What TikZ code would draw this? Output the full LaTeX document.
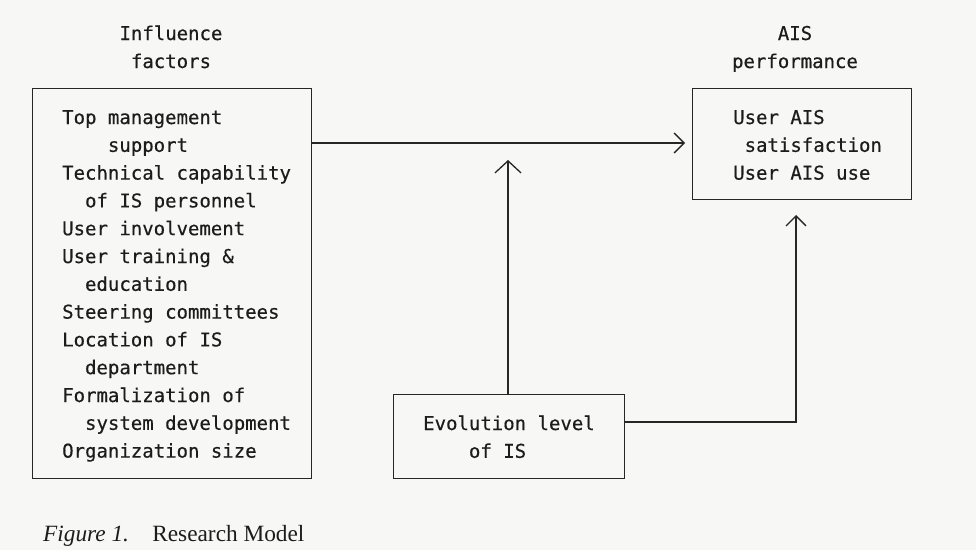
\documentclass[tikz,border=0pt]{standalone}
\usepackage{fontspec}
\setmainfont{Liberation Serif}
\newfontfamily\monofont{DejaVu Sans Mono}[WordSpace={1,0,0},FakeBold=0.4]
\usetikzlibrary{arrows.meta}
\definecolor{inkc}{HTML}{262626}
\definecolor{txtc}{HTML}{1C1C1C}
\definecolor{bgc}{HTML}{F7F7F5}
\newcommand\monoset{\monofont\fontsize{19}{27.8}\selectfont}
\newcommand\fixsp{\spaceskip=\fontcharwd\font`x\xspaceskip=\fontcharwd\font`x\relax}
\begin{document}
\begin{tikzpicture}[x=1pt,y=-1pt,
  ink/.style={draw=inkc, line width=1.3pt},
  boxstyle/.style={ink, rectangle, inner sep=0pt, anchor=north west},
  mono/.style={font=\monoset, text=txtc, inner sep=0pt, align=flush left, text width=#1, anchor=base west},
  title/.style={font=\monoset, text=txtc, inner sep=0pt, anchor=base},
  conn/.style={ink, -{Straight Barb[length=10pt,width=20pt,line width=1.3pt]}},
  bigconn/.style={ink, -{Straight Barb[length=12pt,width=26pt,line width=1.3pt]}}]
\path[fill=bgc, use as bounding box] (0,0) rectangle (976,550);

% titles
\node[title] (t1a) at (171,40) {Influence};
\node[title] (t1b) at (171,68) {factors};
\node[title] (t2a) at (795,40) {AIS};
\node[title] (t2b) at (795,68) {performance};

% boxes
\node[boxstyle, minimum width=279pt, minimum height=390pt] (lbox) at (32,88) {};
\node[boxstyle, minimum width=219pt, minimum height=111pt] (rbox) at (692,88) {};
\node[boxstyle, minimum width=231pt, minimum height=84pt] (ebox) at (393,394) {};

% box texts
\node[mono=250pt] (ltext) at (62,124) {\fixsp Top management\\
\phantom{xxxx}support\\
Technical capability\\
\phantom{xx}of IS personnel\\
User involvement\\
User training \&\\
\phantom{xx}education\\
Steering committees\\
Location of IS\\
\phantom{xx}department\\
Formalization of\\
\phantom{xx}system development\\
Organization size};
\node[mono=170pt] (rtext) at (733,124) {\fixsp User AIS\\
\phantom{x}satisfaction\\
User AIS use};
\node[mono=200pt] (etext) at (423,430) {\fixsp Evolution level\\
\phantom{xxxx}of IS};

% connectors
\coordinate (a1) at (lbox.east |- 0,143);
\coordinate (a2) at (685,143);
\draw[conn] (a1) -- (a2);
\coordinate (m1) at (508,394);
\coordinate (m2) at (508,160);
\draw[bigconn] (m1) -- (m2);
\coordinate (e1) at (ebox.east |- 0,422);
\coordinate (e2) at (796,422);
\coordinate (e3) at (796,215);
\draw[conn] (e1) -- (e2) -- (e3);

% caption
\node[font=\fontsize{23.3}{26}\selectfont, text=txtc, inner sep=0pt, anchor=base west] (cap) at (43,541) {\textit{Figure 1.}\hspace{1em}Research Model};
\end{tikzpicture}
\end{document}
